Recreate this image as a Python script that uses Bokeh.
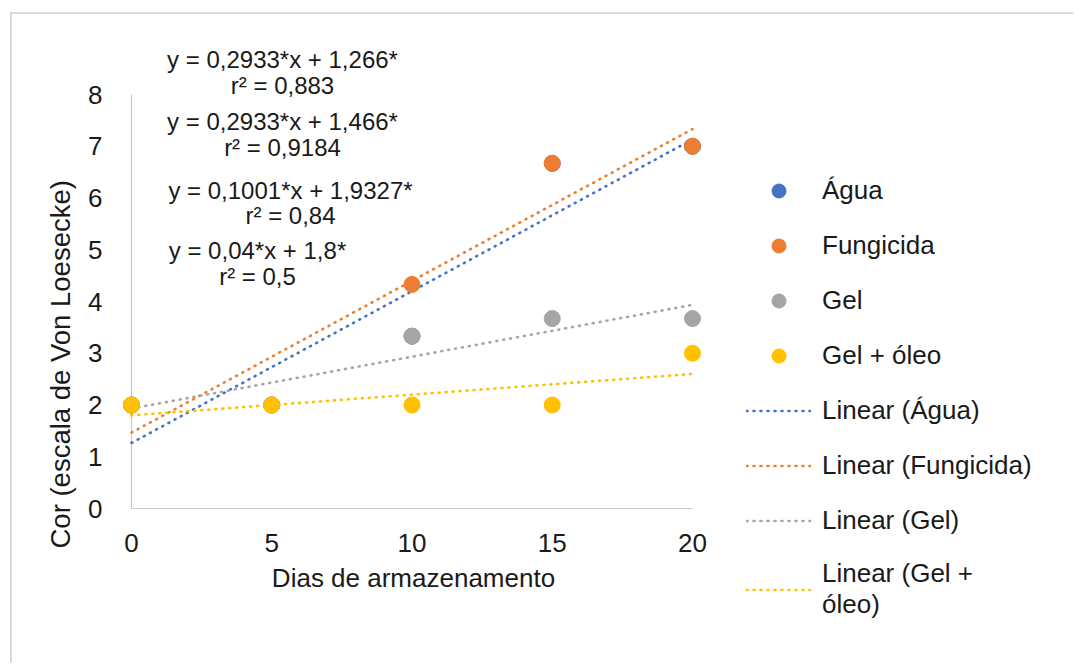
from bokeh.embed import file_html
from bokeh.models import FixedTicker, Label, Legend, LegendItem, Range1d, Title
from bokeh.plotting import figure
from bokeh.resources import INLINE

# ---- data -------------------------------------------------------------
days = [0, 5, 10, 15, 20]
agua = [2, 2, 3.33, 6.67, 7]
fungicida = [2, 2, 4.33, 6.67, 7]
gel = [2, 2, 3.33, 3.67, 3.67]
gel_oleo = [2, 2, 2, 2, 3]

series_names = ["Água", "Fungicida", "Gel", "Gel + óleo"]
series_values = [agua, fungicida, gel, gel_oleo]

# linear trend coefficients and coefficients of determination
slopes = [0.2933, 0.2933, 0.1001, 0.04]
intercepts = [1.266, 1.466, 1.9327, 1.8]
r_squared = [0.883, 0.9184, 0.84, 0.5]

y_ticks = [0, 1, 2, 3, 4, 5, 6, 7, 8]

# ---- styling ----------------------------------------------------------
colors = ["#4472C4", "#ED7D31", "#A5A5A5", "#FFC000"]
FONT = "Liberation Sans"
TEXT = "#1a1a1a"
AXIS_GREY = "#c9c9c9"

# page offset of the canvas (left/top border of the chart box)
OX, OY = 12, 14
W, H = 1075 - OX, 665 - OY

# pixel geometry of the plotting area (page coordinates)
PX0, PX20 = 131, 692      # x = 0 and x = 20
PY0, PY8 = 508, 94        # y = 0 and y = 8
sx = (PX20 - PX0) / 20.0
sy = (PY0 - PY8) / 8.0

# the frame spans the plot, the annotations and the legend
frame_left, frame_right = 121, 1063
frame_top, frame_bottom = 25, 631


def dx(px):
    return (px - PX0) / sx


def dy(py):
    return (PY0 - py) / sy


p = figure(
    width=W, height=H,
    output_backend="svg", toolbar_location=None,
    x_range=Range1d(dx(frame_left), dx(frame_right)),
    y_range=Range1d(dy(frame_bottom), dy(frame_top)),
    min_border_left=frame_left - OX,
    min_border_right=1075 - frame_right,
    min_border_top=frame_top - OY,
    min_border_bottom=665 - frame_bottom,
    background_fill_color="white",
    border_fill_color="white",
)
p.styles = {
    "margin-left": f"{OX - 2}px",
    "margin-top": f"{OY - 2}px",
    "border-left": "2px solid #d9d9d9",
    "border-top": "2px solid #d9d9d9",
}
p.outline_line_color = None
p.grid.visible = False

# axes: labels only, lines drawn separately at the data origin
for ax in (p.xaxis, p.yaxis):
    ax.axis_line_color = None
    ax.major_tick_line_color = None
    ax.minor_tick_line_color = None
    ax.major_label_text_font = FONT
    ax.major_label_text_font_size = "26px"
    ax.major_label_text_color = TEXT

p.xaxis.ticker = FixedTicker(ticks=days)
p.yaxis.ticker = FixedTicker(ticks=y_ticks)
# day labels hang just under the zero line
p.xaxis.fixed_location = dy(527)
p.xaxis.major_label_standoff = 0
p.yaxis.major_label_standoff = 13

p.segment(x0=[days[0], days[0]], y0=[y_ticks[0], y_ticks[0]],
          x1=[days[-1], days[0]], y1=[y_ticks[0], y_ticks[-1]],
          line_color=AXIS_GREY, line_width=1.2)

# axis titles
p.add_layout(Label(
    x=dx(413), y=dy(577), text="Dias de armazenamento",
    text_align="center", text_baseline="middle",
    text_font=FONT, text_font_size="26px", text_color=TEXT,
))
p.add_layout(Title(
    text="Cor (escala de Von Loesecke)", align="left",
    offset=frame_bottom - 548, standoff=20,
    text_font=FONT, text_font_size="27.5px",
    text_font_style="normal", text_color=TEXT,
), "left")

# trend lines
line_renderers = []
for m, b, c in zip(slopes, intercepts, colors):
    xs = [days[0], days[-1]]
    ys = [m * x + b for x in xs]
    r = p.line(xs, ys, line_color=c, line_width=2.6, line_dash="1 6",
               line_cap="round")
    line_renderers.append(r)

# observed points
point_renderers = []
for vals, c in zip(series_values, colors):
    r = p.scatter(days, vals, size=16, fill_color=c, line_color=c)
    point_renderers.append(r)


def br(v):
    return f"{v}".replace(".", ",")


# regression equations
eq_pos = [(282, 59, 85), (282, 121, 147), (290, 190, 215), (257, 250, 276)]
for (cx, y1, y2), m, b, r2 in zip(eq_pos, slopes, intercepts, r_squared):
    p.add_layout(Label(
        x=dx(cx), y=dy(y1), text=f"y = {br(m)}*x + {br(b)}*",
        text_align="center", text_baseline="middle",
        text_font=FONT, text_font_size="24px", text_color=TEXT,
    ))
    p.add_layout(Label(
        x=dx(cx), y=dy(y2), text=f"r² = {br(r2)}",
        text_align="center", text_baseline="middle",
        text_font=FONT, text_font_size="24px", text_color=TEXT,
    ))

items = [LegendItem(label=n, renderers=[r]) for n, r in zip(series_names, point_renderers)]
line_labels = ["Linear (Água)", "Linear (Fungicida)", "Linear (Gel)", "Linear (Gel +\nóleo)"]
items += [LegendItem(label=n, renderers=[r]) for n, r in zip(line_labels, line_renderers)]

legend = Legend(
    items=items,
    location=(746 - frame_left, frame_bottom - 620),
    glyph_width=65, glyph_height=35, label_standoff=11,
    padding=0, margin=0, spacing=20,
    border_line_color=None, background_fill_alpha=0,
    label_text_font=FONT, label_text_font_size="26px", label_text_color=TEXT,
)
p.add_layout(legend)

open("out.html", "w").write(file_html(p, INLINE))
